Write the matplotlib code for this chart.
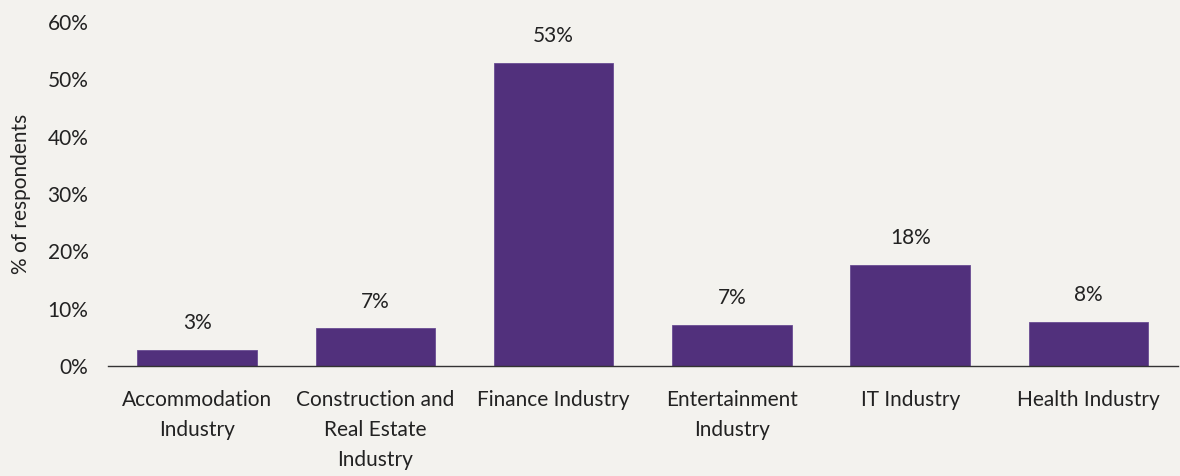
import numpy as np
import matplotlib.pyplot as plt

# Share of respondents by industry (%)
industries = [
    "Accommodation\nIndustry",
    "Construction and\nReal Estate\nIndustry",
    "Finance Industry",
    "Entertainment\nIndustry",
    "IT Industry",
    "Health Industry",
]
shares = [2.8, 6.6, 52.9, 7.2, 17.6, 7.7]
yticks = [0, 10, 20, 30, 40, 50, 60]

bg = "#f3f2ee"
bar_color = "#51307c"
text_color = "#222222"

plt.rcParams["font.family"] = ["Lato", "DejaVu Sans"]
fs = 15

fig = plt.figure(figsize=(11.8, 4.76), dpi=100, facecolor=bg)
ax = fig.add_axes([0.0915, 0.231, 0.9065, 0.723], facecolor=bg)

x = np.arange(len(industries))
bars = ax.bar(x, shares, width=0.67, color=bar_color,
              edgecolor="#6a4d93", linewidth=0.6, zorder=2)

for rect, v in zip(bars, shares):
    ax.annotate(f"{round(v):.0f}%", (rect.get_x() + rect.get_width() / 2, v),
                xytext=(0, 12), textcoords="offset points",
                ha="center", va="bottom", fontsize=fs, color=text_color)

ax.set_xlim(-0.5, len(industries) - 0.5)
ax.set_ylim(0, 60)
ax.set_yticks(yticks)
ax.set_yticklabels([f"{t}%" for t in yticks], fontsize=fs, color=text_color)
ax.set_xticks(x)
ax.set_xticklabels(industries, fontsize=fs, color=text_color, va="top")
for lbl in ax.get_xticklabels():
    lbl.set_linespacing(1.65)
ax.tick_params(axis="both", length=0)
ax.tick_params(axis="x", pad=17)
ax.tick_params(axis="y", pad=14)

for side in ["top", "right", "left"]:
    ax.spines[side].set_visible(False)
ax.spines["bottom"].set_color("#333333")
ax.spines["bottom"].set_linewidth(1.0)

ax.set_ylabel("% of respondents", fontsize=fs, color=text_color, labelpad=12)

fig.savefig("out.png", dpi=100, facecolor=bg)
